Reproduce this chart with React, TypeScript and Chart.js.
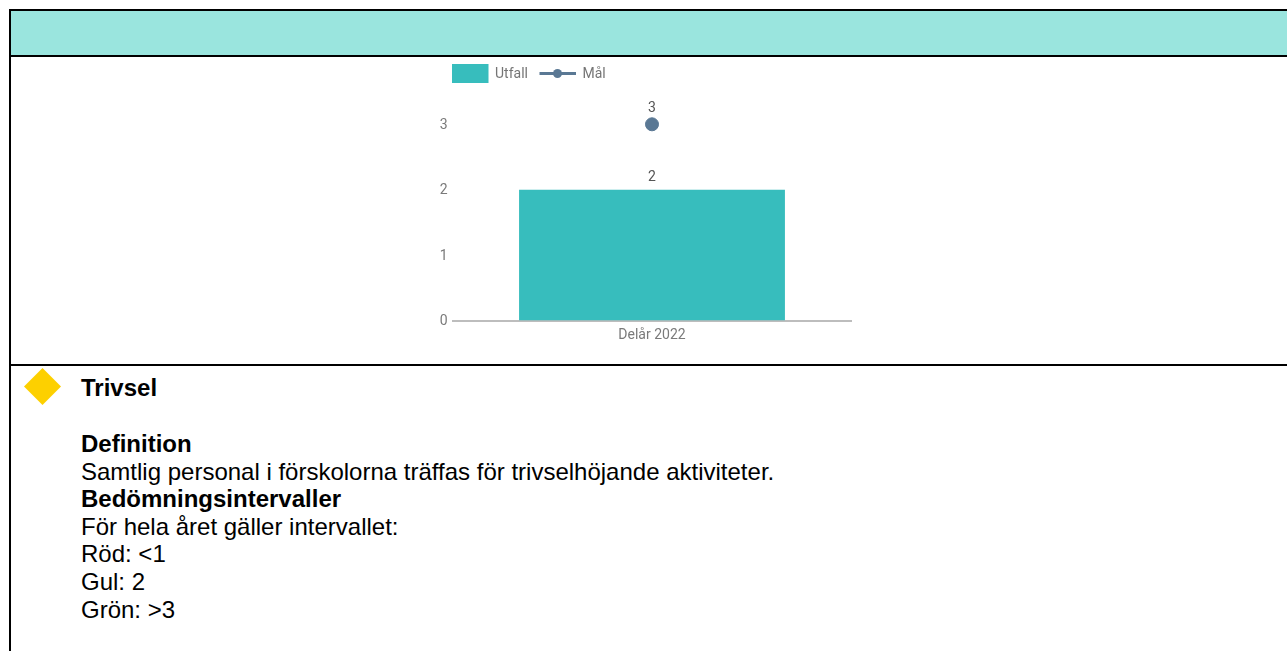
import React, { useEffect, useRef } from "react";
import { Chart, registerables } from "chart.js";

Chart.register(...registerables);

const categories = ["Delår 2022"];
const utfall = [2];
const mal = [3];
const yTicks = [0, 1, 2, 3];

const FONT = "Roboto";

const overlay = {
  id: "overlay",
  afterDatasetsDraw(chart: any) {
    const { ctx } = chart;
    ctx.save();
    // value labels
    ctx.font = `14px ${FONT}`;
    ctx.fillStyle = "#555555";
    ctx.textAlign = "center";
    ctx.textBaseline = "middle";
    chart.data.datasets.forEach((ds: any, i: number) => {
      chart.getDatasetMeta(i).data.forEach((el: any, j: number) => {
        const offset = ds.type === "line" ? 16 : 12;
        ctx.fillText(String(ds.data[j]), el.x, el.y - offset);
      });
    });
    // legend
    const top = 6;
    const left = 22;
    const bar = chart.data.datasets[1];
    const line = chart.data.datasets[0];
    ctx.fillStyle = bar.backgroundColor;
    ctx.fillRect(left, top, 36.5, 19);
    ctx.fillStyle = "#757575";
    ctx.textAlign = "left";
    ctx.fillText(bar.label, left + 43, top + 10.5);
    ctx.strokeStyle = line.borderColor;
    ctx.lineWidth = 3;
    ctx.beginPath();
    ctx.moveTo(left + 87.5, top + 9.5);
    ctx.lineTo(left + 124, top + 9.5);
    ctx.stroke();
    ctx.fillStyle = line.borderColor;
    ctx.beginPath();
    ctx.arc(left + 105.5, top + 9.5, 4.5, 0, Math.PI * 2);
    ctx.fill();
    ctx.fillStyle = "#757575";
    ctx.fillText(line.label, left + 130.5, top + 10.5);
    ctx.restore();
  },
};

const textStyle: React.CSSProperties = {
  position: "absolute",
  left: 81,
  fontFamily: "'Liberation Sans', Arial, sans-serif",
  fontSize: 24,
  lineHeight: "27.6px",
  color: "#000",
  whiteSpace: "nowrap",
};

const rules: React.CSSProperties[] = [
  { left: 9, top: 9, width: 1278, height: 2 },
  { left: 9, top: 55, width: 1278, height: 2 },
  { left: 9, top: 364, width: 1278, height: 2 },
  { left: 9, top: 9, width: 2, height: 642 },
];

export default function App() {
  const ref = useRef<HTMLCanvasElement>(null);
  useEffect(() => {
    const chart = new Chart(ref.current!, {
      type: "bar",
      data: {
        labels: categories,
        datasets: [
          {
            type: "line",
            label: "Mål",
            data: mal,
            borderColor: "#5a7894",
            backgroundColor: "#5a7894",
            pointRadius: 6.5,
            pointHoverRadius: 6.5,
            order: 0,
          },
          {
            type: "bar",
            label: "Utfall",
            data: utfall,
            backgroundColor: "#37bdbd",
            barPercentage: 0.668,
            categoryPercentage: 1,
            order: 1,
          },
        ] as any,
      },
      options: {
        animation: false,
        responsive: false,
        layout: { padding: { top: 33.6, right: 19, left: 0, bottom: 0 } },
        plugins: { legend: { display: false }, tooltip: { enabled: false } },
        scales: {
          x: {
            grid: { display: false, drawTicks: false },
            border: { color: "#bdbdbd", width: 2 },
            ticks: { color: "#7a7a7a", font: { family: FONT, size: 14 }, padding: 7 },
            afterFit(s: any) { s.height = 37.5; },
          },
          y: {
            min: 0,
            max: 3.5,
            grid: { display: false, drawTicks: false },
            border: { display: false },
            afterBuildTicks(s: any) { s.ticks = yTicks.map((value) => ({ value })); },
            ticks: { color: "#7a7a7a", font: { family: FONT, size: 14 }, padding: 5.5, labelOffset: 1 },
            afterFit(s: any) { s.width = 23; },
          },
        },
      } as any,
      plugins: [overlay],
    });
    return () => chart.destroy();
  }, []);

  return (
    <div style={{ position: "fixed", left: 0, top: 0, width: 1287, height: 651, background: "#fff", overflow: "hidden" }}>
      <div style={{ position: "absolute", left: 9, top: 9, width: 1278, height: 48, background: "#9ae5de" }} />
      {rules.map((r, i) => (
        <div key={i} style={{ position: "absolute", background: "#000", ...r }} />
      ))}
      <canvas ref={ref} width={440} height={300} style={{ position: "absolute", left: 430, top: 58, width: 440, height: 300 }} />
      <div style={{ position: "absolute", left: 24, top: 368, width: 37, height: 37, background: "#fdd000", clipPath: "polygon(50% 0, 100% 50%, 50% 100%, 0 50%)" }} />
      <div style={{ ...textStyle, top: 374, fontWeight: "bold" }}>Trivsel</div>
      <div style={{ ...textStyle, top: 430 }}>
        <b>Definition</b>
        <br />
        Samtlig personal i förskolorna träffas för trivselhöjande aktiviteter.
        <br />
        <b>Bedömningsintervaller</b>
        <br />
        För hela året gäller intervallet:
        <br />
        Röd: &lt;1
        <br />
        Gul: 2
        <br />
        Grön: &gt;3
      </div>
    </div>
  );
}
